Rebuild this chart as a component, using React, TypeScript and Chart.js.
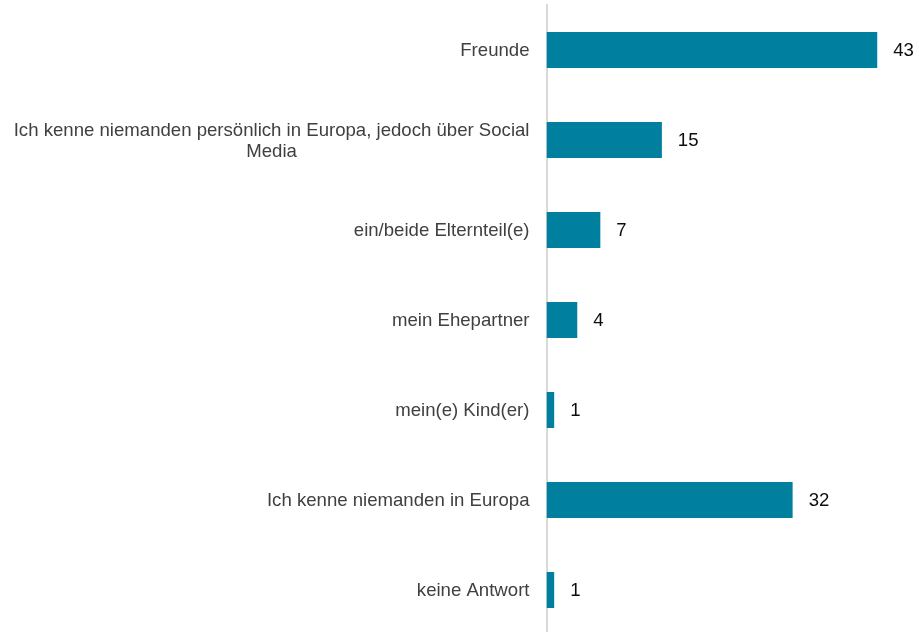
import React, { useEffect, useRef } from "react";
import { Chart, registerables } from "chart.js";

Chart.register(...registerables);

const categories: string[][] = [
  ["Freunde"],
  ["Ich kenne niemanden persönlich in Europa, jedoch über Social", "Media"],
  ["ein/beide Elternteil(e)"],
  ["mein Ehepartner"],
  ["mein(e) Kind(er)"],
  ["Ich kenne niemanden in Europa"],
  ["keine Antwort"],
];
const values: number[] = [43, 15, 7, 4, 1, 32, 1];
const xMax = 47;

const FONT = "18.6px 'Liberation Sans', Arial, sans-serif";

const labelPlugin = {
  id: "customLabels",
  afterDatasetsDraw(chart: any) {
    const ctx = chart.ctx;
    const yScale = chart.scales.y;
    const meta = chart.getDatasetMeta(0);
    ctx.save();
    ctx.font = FONT;
    ctx.textBaseline = "middle";
    const right = chart.chartArea.left - 17;
    const lh = 21;
    categories.forEach((lines, i) => {
      const cy = yScale.getPixelForValue(i) + 1;
      ctx.fillStyle = "#404040";
      if (lines.length === 1) {
        ctx.textAlign = "right";
        ctx.fillText(lines[0], right, cy);
      } else {
        const maxW = Math.max(...lines.map((l) => ctx.measureText(l).width));
        const cx = right - maxW / 2;
        ctx.textAlign = "center";
        lines.forEach((l, j) => {
          ctx.fillText(l, cx, cy + (j - (lines.length - 1) / 2) * lh);
        });
      }
      const bar = meta.data[i];
      ctx.textAlign = "left";
      ctx.fillStyle = "#0d0d0d";
      ctx.fillText(String(values[i]), bar.x + 16, bar.y + 1);
    });
    ctx.restore();
  },
};

export default function App() {
  const ref = useRef<HTMLCanvasElement | null>(null);
  useEffect(() => {
    document.body.style.margin = "0";
    document.body.style.overflow = "hidden";
    const chart = new Chart(ref.current as HTMLCanvasElement, {
      type: "bar",
      data: {
        labels: categories.map((c) => c.join(" ")),
        datasets: [
          {
            data: values,
            backgroundColor: "#00809e",
            borderWidth: 0,
            categoryPercentage: 0.8,
            barPercentage: 0.5,
          },
        ],
      },
      options: {
        indexAxis: "y",
        animation: false,
        responsive: false,
        maintainAspectRatio: false,
        layout: { padding: { top: 5, right: 11, bottom: 0, left: 0 } },
        plugins: { legend: { display: false }, tooltip: { enabled: false } },
        scales: {
          x: { display: false, min: 0, max: xMax },
          y: {
            display: true,
            ticks: { display: false },
            grid: { display: false },
            border: { display: true, color: "#d9d9d9", width: 2 },
            afterFit: (scale: any) => {
              scale.width = 546.5;
            },
          },
        },
      },
      plugins: [labelPlugin],
    });
    return () => chart.destroy();
  }, []);
  return (
    <div style={{ position: "absolute", left: 0, top: 0, width: 919, height: 635 }}>
      <canvas ref={ref} width={919} height={635} style={{ display: "block" }} />
    </div>
  );
}
